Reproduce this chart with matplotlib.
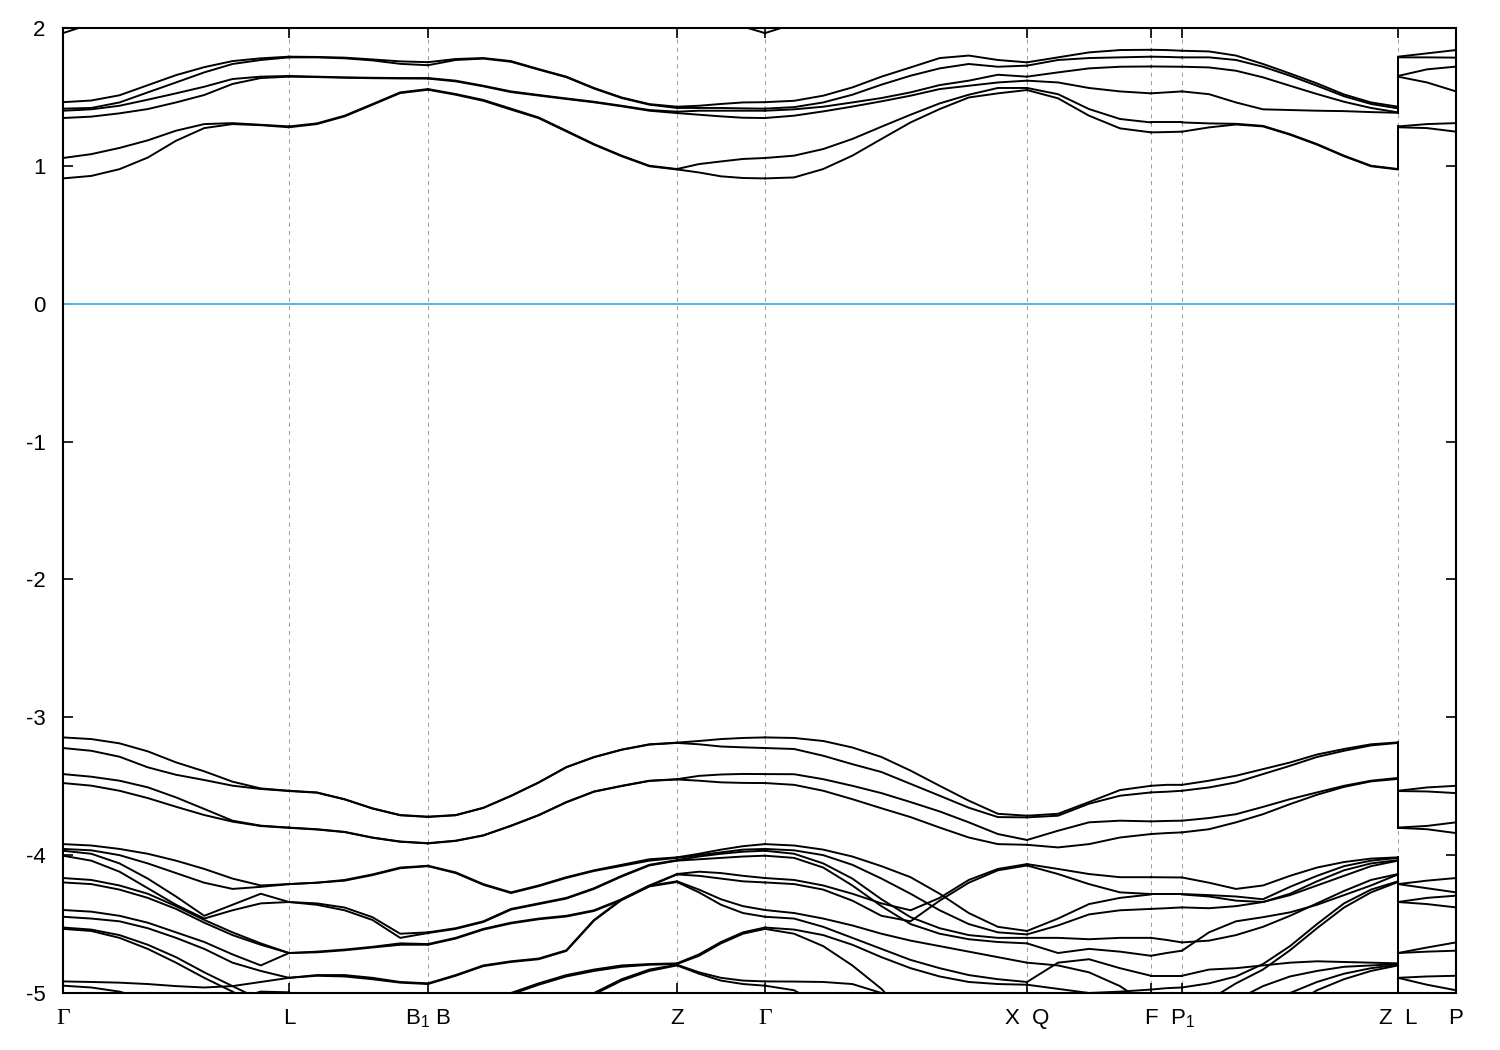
import numpy as np
import matplotlib
matplotlib.use("Agg")
import matplotlib.pyplot as plt

plt.rcParams['font.family'] = ['Liberation Sans', 'DejaVu Sans']
plt.rcParams['mathtext.fontset'] = 'custom'
plt.rcParams['mathtext.rm'] = 'Liberation Sans'
plt.rcParams['axes.unicode_minus'] = False

# high symmetry points along the path (k-distance)
k_ticks = [0.0, 0.226, 0.365, 0.614, 0.702, 0.964, 1.088, 1.119, 1.335, 1.393]
k_labels = ['Γ', 'L', 'B$_\\mathrm{1}$ B', 'Z', 'Γ', 'X  Q', 'F', 'P$_\\mathrm{1}$', 'Z  L', 'P']

# energies (eV) per segment, one row per band, columns = k points of the segment
# Γ - L
GL = [
    [1.963, 2.03, 2.2, 2.3, 2.3, 2.3, 2.3, 2.3, 2.3],
    [1.462, 1.474, 1.512, 1.585, 1.658, 1.716, 1.76, 1.78, 1.792],
    [1.415, 1.42, 1.46, 1.533, 1.605, 1.678, 1.739, 1.768, 1.787],
    [1.40, 1.41, 1.436, 1.48, 1.526, 1.574, 1.63, 1.647, 1.652],
    [1.347, 1.357, 1.381, 1.412, 1.46, 1.514, 1.594, 1.637, 1.647],
    [1.057, 1.085, 1.13, 1.185, 1.255, 1.303, 1.31, 1.298, 1.286],
    [0.909, 0.927, 0.976, 1.06, 1.182, 1.274, 1.303, 1.295, 1.28],
    [-3.146, -3.158, -3.189, -3.247, -3.327, -3.392, -3.467, -3.516, -3.533],
    [-3.223, -3.243, -3.286, -3.363, -3.417, -3.455, -3.496, -3.52, -3.535],
    [-3.412, -3.431, -3.46, -3.508, -3.581, -3.665, -3.75, -3.786, -3.80],
    [-3.477, -3.496, -3.533, -3.586, -3.649, -3.709, -3.757, -3.789, -3.802],
    [-3.92, -3.93, -3.955, -3.99, -4.04, -4.10, -4.17, -4.22, -4.21],
    [-3.955, -3.965, -4.00, -4.06, -4.13, -4.20, -4.245, -4.23, -4.21],
    [-3.968, -3.99, -4.06, -4.17, -4.30, -4.44, -4.36, -4.28, -4.34],
    [-4.004, -4.04, -4.12, -4.24, -4.36, -4.46, -4.40, -4.35, -4.34],
    [-4.166, -4.18, -4.22, -4.28, -4.37, -4.47, -4.56, -4.64, -4.71],
    [-4.198, -4.21, -4.25, -4.31, -4.39, -4.49, -4.58, -4.65, -4.71],
    [-4.398, -4.41, -4.44, -4.49, -4.56, -4.63, -4.72, -4.80, -4.71],
    [-4.447, -4.46, -4.48, -4.53, -4.60, -4.68, -4.78, -4.84, -4.89],
    [-4.525, -4.54, -4.58, -4.65, -4.74, -4.85, -4.95, -5.05, -5.2],
    [-4.535, -4.55, -4.60, -4.68, -4.78, -4.89, -4.99, -5.1, -5.2],
    [-4.916, -4.92, -4.925, -4.935, -4.95, -4.96, -4.95, -4.92, -4.89],
    [-4.947, -4.96, -4.99, -5.05, -5.1, -5.1, -5.05, -4.99, -4.995],
]

# L - B1|B
LB = [
    [1.792, 1.79, 1.785, 1.772, 1.758, 1.752],
    [1.787, 1.787, 1.78, 1.765, 1.74, 1.73],
    [1.652, 1.647, 1.642, 1.639, 1.637, 1.637],
    [1.647, 1.644, 1.639, 1.636, 1.634, 1.633],
    [1.286, 1.308, 1.364, 1.448, 1.533, 1.557],
    [1.28, 1.303, 1.359, 1.443, 1.528, 1.552],
    [-3.533, -3.545, -3.594, -3.66, -3.709, -3.721],
    [-3.535, -3.547, -3.596, -3.662, -3.711, -3.723],
    [-3.80, -3.812, -3.831, -3.872, -3.901, -3.913],
    [-3.802, -3.814, -3.833, -3.874, -3.903, -3.915],
    [-4.21, -4.20, -4.18, -4.14, -4.09, -4.077],
    [-4.21, -4.20, -4.185, -4.145, -4.095, -4.08],
    [-4.34, -4.35, -4.38, -4.45, -4.57, -4.56],
    [-4.34, -4.36, -4.40, -4.47, -4.60, -4.565],
    [-4.71, -4.70, -4.685, -4.665, -4.64, -4.645],
    [-4.71, -4.705, -4.69, -4.67, -4.65, -4.65],
    [-4.89, -4.87, -4.87, -4.89, -4.92, -4.93],
    [-4.89, -4.875, -4.88, -4.90, -4.925, -4.935],
    [-4.995, -5.1, -5.2, -5.3, -5.3, -5.3],
]

# B - Z
BZ = [
    [1.752, 1.775, 1.782, 1.76, 1.702, 1.647, 1.565, 1.496, 1.448, 1.429],
    [1.73, 1.768, 1.778, 1.755, 1.698, 1.643, 1.561, 1.492, 1.444, 1.42],
    [1.637, 1.618, 1.581, 1.54, 1.514, 1.489, 1.465, 1.436, 1.405, 1.393],
    [1.633, 1.613, 1.577, 1.535, 1.51, 1.485, 1.461, 1.432, 1.40, 1.383],
    [1.557, 1.521, 1.478, 1.415, 1.351, 1.255, 1.158, 1.074, 1.001, 0.977],
    [1.552, 1.516, 1.472, 1.408, 1.346, 1.25, 1.154, 1.07, 0.997, 0.974],
    [-3.721, -3.709, -3.656, -3.569, -3.472, -3.361, -3.288, -3.234, -3.196, -3.184],
    [-3.723, -3.711, -3.658, -3.571, -3.474, -3.363, -3.29, -3.236, -3.198, -3.186],
    [-3.913, -3.895, -3.856, -3.786, -3.709, -3.615, -3.538, -3.497, -3.46, -3.449],
    [-3.915, -3.897, -3.858, -3.788, -3.711, -3.617, -3.54, -3.499, -3.462, -3.451],
    [-4.077, -4.125, -4.21, -4.27, -4.22, -4.16, -4.11, -4.07, -4.03, -4.016],
    [-4.08, -4.13, -4.215, -4.275, -4.225, -4.165, -4.115, -4.078, -4.04, -4.02],
    [-4.56, -4.53, -4.48, -4.39, -4.35, -4.31, -4.24, -4.15, -4.07, -4.036],
    [-4.565, -4.535, -4.485, -4.395, -4.355, -4.315, -4.245, -4.155, -4.075, -4.04],
    [-4.645, -4.60, -4.535, -4.49, -4.46, -4.44, -4.40, -4.32, -4.22, -4.137],
    [-4.65, -4.605, -4.54, -4.495, -4.465, -4.445, -4.405, -4.325, -4.225, -4.14],
    [-4.93, -4.87, -4.80, -4.77, -4.75, -4.69, -4.47, -4.32, -4.222, -4.19],
    [-4.935, -4.875, -4.805, -4.775, -4.755, -4.695, -4.475, -4.325, -4.227, -4.195],
    [-5.3, -5.3, -5.3, -5.0, -4.93, -4.87, -4.83, -4.80, -4.79, -4.785],
    [-5.3, -5.3, -5.3, -5.01, -4.94, -4.88, -4.84, -4.81, -4.795, -4.79],
    [-5.3, -5.3, -5.3, -5.3, -5.3, -5.2, -5.0, -4.90, -4.83, -4.795],
    [-5.3, -5.3, -5.3, -5.3, -5.3, -5.2, -5.01, -4.91, -4.84, -4.80],
]

# Z - Γ
ZG = [
    [2.3, 2.3, 2.3, 2.01, 1.963],
    [1.429, 1.436, 1.449, 1.46, 1.462],
    [1.42, 1.42, 1.42, 1.417, 1.415],
    [1.393, 1.40, 1.40, 1.40, 1.40],
    [1.383, 1.371, 1.359, 1.349, 1.347],
    [0.977, 1.013, 1.032, 1.05, 1.057],
    [0.974, 0.952, 0.924, 0.912, 0.909],
    [-3.184, -3.172, -3.158, -3.15, -3.146],
    [-3.186, -3.196, -3.212, -3.218, -3.223],
    [-3.449, -3.425, -3.415, -3.411, -3.412],
    [-3.451, -3.46, -3.472, -3.476, -3.477],
    [-4.016, -3.99, -3.96, -3.935, -3.92],
    [-4.02, -4.00, -3.98, -3.96, -3.955],
    [-4.036, -4.01, -3.99, -3.975, -3.968],
    [-4.04, -4.03, -4.02, -4.01, -4.004],
    [-4.137, -4.12, -4.13, -4.15, -4.166],
    [-4.14, -4.15, -4.17, -4.19, -4.198],
    [-4.19, -4.25, -4.32, -4.37, -4.398],
    [-4.195, -4.27, -4.36, -4.42, -4.447],
    [-4.785, -4.72, -4.63, -4.56, -4.525],
    [-4.79, -4.73, -4.64, -4.57, -4.535],
    [-4.795, -4.85, -4.89, -4.91, -4.916],
    [-4.80, -4.86, -4.91, -4.935, -4.947],
]

# Γ - X|Q
GX = [
    [1.963, 2.03, 2.3, 2.3, 2.3, 2.3, 2.3, 2.3, 2.3, 2.3],
    [1.462, 1.472, 1.509, 1.569, 1.647, 1.714, 1.782, 1.80, 1.768, 1.751],
    [1.415, 1.426, 1.46, 1.516, 1.589, 1.654, 1.707, 1.739, 1.719, 1.727],
    [1.40, 1.41, 1.429, 1.46, 1.492, 1.533, 1.586, 1.618, 1.661, 1.647],
    [1.347, 1.364, 1.395, 1.43, 1.468, 1.509, 1.557, 1.581, 1.605, 1.618],
    [1.057, 1.074, 1.122, 1.195, 1.284, 1.371, 1.453, 1.516, 1.565, 1.565],
    [0.909, 0.916, 0.977, 1.074, 1.195, 1.315, 1.412, 1.496, 1.526, 1.55],
    [-3.146, -3.15, -3.172, -3.219, -3.288, -3.387, -3.497, -3.605, -3.70, -3.714],
    [-3.223, -3.23, -3.279, -3.34, -3.397, -3.483, -3.569, -3.656, -3.724, -3.726],
    [-3.412, -3.413, -3.449, -3.497, -3.55, -3.615, -3.683, -3.762, -3.847, -3.89],
    [-3.477, -3.49, -3.533, -3.594, -3.66, -3.724, -3.80, -3.872, -3.92, -3.925],
    [-3.92, -3.93, -3.96, -4.01, -4.08, -4.16, -4.28, -4.42, -4.52, -4.55],
    [-3.955, -3.965, -4.00, -4.07, -4.17, -4.28, -4.40, -4.50, -4.56, -4.575],
    [-3.968, -3.99, -4.06, -4.17, -4.32, -4.45, -4.53, -4.58, -4.60, -4.60],
    [-4.004, -4.02, -4.09, -4.22, -4.37, -4.50, -4.57, -4.61, -4.63, -4.64],
    [-4.166, -4.18, -4.22, -4.28, -4.35, -4.40, -4.31, -4.18, -4.10, -4.065],
    [-4.198, -4.21, -4.25, -4.33, -4.44, -4.48, -4.33, -4.20, -4.11, -4.075],
    [-4.398, -4.42, -4.46, -4.51, -4.57, -4.62, -4.66, -4.70, -4.74, -4.78],
    [-4.447, -4.46, -4.52, -4.60, -4.68, -4.76, -4.82, -4.87, -4.90, -4.92],
    [-4.525, -4.54, -4.58, -4.65, -4.74, -4.82, -4.88, -4.92, -4.935, -4.94],
    [-4.535, -4.57, -4.66, -4.80, -4.97, -5.2, -5.3, -5.3, -5.3, -5.3],
    [-4.916, -4.917, -4.92, -4.935, -5.0, -5.3, -5.3, -5.3, -5.3, -5.3],
    [-4.947, -4.98, -5.1, -5.3, -5.3, -5.3, -5.3, -5.3, -5.3, -5.3],
]

# X|Q - F
XF = [
    [1.751, 1.787, 1.823, 1.84, 1.842],
    [1.727, 1.768, 1.782, 1.787, 1.792],
    [1.647, 1.678, 1.707, 1.719, 1.721],
    [1.618, 1.605, 1.565, 1.54, 1.526],
    [1.565, 1.52, 1.412, 1.34, 1.315],
    [1.55, 1.49, 1.364, 1.272, 1.243],
    [-3.714, -3.70, -3.615, -3.528, -3.497],
    [-3.726, -3.714, -3.627, -3.569, -3.545],
    [-3.89, -3.823, -3.762, -3.75, -3.755],
    [-3.925, -3.944, -3.92, -3.872, -3.847],
    [-4.065, -4.10, -4.137, -4.16, -4.16],
    [-4.075, -4.137, -4.21, -4.27, -4.282],
    [-4.55, -4.46, -4.355, -4.31, -4.285],
    [-4.575, -4.51, -4.43, -4.40, -4.39],
    [-4.60, -4.60, -4.61, -4.60, -4.60],
    [-4.64, -4.71, -4.68, -4.70, -4.73],
    [-4.78, -4.80, -4.85, -4.95, -5.1],
    [-4.92, -4.78, -4.755, -4.82, -4.875],
    [-4.94, -4.97, -5.0, -4.99, -4.975],
]

# F - P1
FP1 = [
    [1.842, 1.84, 1.835],
    [1.792, 1.79, 1.787],
    [1.721, 1.72, 1.719],
    [1.526, 1.533, 1.54],
    [1.315, 1.315, 1.315],
    [1.243, 1.245, 1.248],
    [-3.497, -3.49, -3.49],
    [-3.545, -3.54, -3.533],
    [-3.755, -3.752, -3.75],
    [-3.847, -3.84, -3.835],
    [-4.16, -4.161, -4.162],
    [-4.282, -4.282, -4.282],
    [-4.285, -4.285, -4.285],
    [-4.39, -4.385, -4.379],
    [-4.60, -4.615, -4.633],
    [-4.73, -4.71, -4.693],
    [-4.875, -4.875, -4.875],
    [-4.975, -4.965, -4.96],
]

# P1 - Z
P1Z = [
    [1.835, 1.83, 1.80, 1.739, 1.67, 1.598, 1.518, 1.46, 1.429],
    [1.787, 1.787, 1.768, 1.719, 1.654, 1.581, 1.505, 1.449, 1.417],
    [1.719, 1.714, 1.69, 1.642, 1.581, 1.521, 1.465, 1.42, 1.388],
    [1.54, 1.52, 1.46, 1.41, 1.405, 1.40, 1.397, 1.39, 1.385],
    [1.315, 1.308, 1.305, 1.29, 1.23, 1.158, 1.074, 1.001, 0.977],
    [1.248, 1.279, 1.30, 1.286, 1.226, 1.154, 1.07, 0.997, 0.974],
    [-3.49, -3.46, -3.424, -3.376, -3.328, -3.27, -3.23, -3.196, -3.182],
    [-3.533, -3.509, -3.472, -3.412, -3.352, -3.288, -3.243, -3.204, -3.186],
    [-3.75, -3.731, -3.703, -3.65, -3.594, -3.545, -3.497, -3.46, -3.44],
    [-3.835, -3.812, -3.762, -3.703, -3.63, -3.562, -3.505, -3.465, -3.447],
    [-4.162, -4.20, -4.245, -4.22, -4.15, -4.09, -4.05, -4.025, -4.016],
    [-4.282, -4.29, -4.30, -4.32, -4.23, -4.15, -4.08, -4.04, -4.02],
    [-4.285, -4.30, -4.33, -4.34, -4.28, -4.19, -4.11, -4.06, -4.036],
    [-4.379, -4.385, -4.37, -4.34, -4.29, -4.22, -4.15, -4.08, -4.04],
    [-4.633, -4.62, -4.58, -4.52, -4.44, -4.35, -4.26, -4.18, -4.137],
    [-4.693, -4.56, -4.48, -4.45, -4.415, -4.36, -4.29, -4.22, -4.14],
    [-4.875, -4.83, -4.82, -4.80, -4.78, -4.77, -4.775, -4.78, -4.785],
    [-4.96, -4.93, -4.88, -4.79, -4.66, -4.50, -4.35, -4.25, -4.19],
    [-5.3, -5.05, -4.93, -4.83, -4.69, -4.53, -4.38, -4.27, -4.195],
    [-5.3, -5.3, -5.05, -4.95, -4.88, -4.84, -4.81, -4.80, -4.79],
    [-5.3, -5.3, -5.3, -5.1, -5.0, -4.92, -4.86, -4.82, -4.795],
    [-5.3, -5.3, -5.3, -5.3, -5.1, -4.98, -4.90, -4.84, -4.80],
]

# L - P
LP = [
    [1.792, 1.816, 1.84],
    [1.787, 1.787, 1.785],
    [1.652, 1.70, 1.72],
    [1.647, 1.605, 1.54],
    [1.286, 1.303, 1.31],
    [1.28, 1.274, 1.248],
    [-3.533, -3.509, -3.497],
    [-3.535, -3.538, -3.55],
    [-3.80, -3.788, -3.762],
    [-3.802, -3.812, -3.84],
    [-4.21, -4.185, -4.166],
    [-4.21, -4.24, -4.27],
    [-4.34, -4.31, -4.294],
    [-4.34, -4.355, -4.379],
    [-4.71, -4.67, -4.633],
    [-4.71, -4.70, -4.693],
    [-4.89, -4.88, -4.875],
    [-4.89, -4.94, -4.98],
    [-4.995, -5.1, -5.3],
    [-5.3, -5.3, -5.3],
    [-5.3, -5.3, -5.3],
    [-5.3, -5.3, -5.3],
]

segments = [GL, LB, BZ, ZG, GX, XF, FP1, P1Z, LP]

fig = plt.figure(figsize=(15, 10.5), dpi=100)
ax = fig.add_axes([63 / 1500, 57 / 1050, 1393 / 1500, 965 / 1050])

for i, seg in enumerate(segments):
    seg = np.array(seg)
    k = np.linspace(k_ticks[i], k_ticks[i + 1], seg.shape[1])
    for row in seg:
        ax.plot(k, row, color='black', lw=1.4, zorder=3)

# the path jumps at Z|L: bands are joined by vertical lines
z_end = np.sort(np.array(P1Z)[:, -1])
l_start = np.sort(np.array(LP)[:, 0])
for e0, e1 in zip(z_end, l_start):
    ax.plot([k_ticks[8], k_ticks[8]], [e0, e1], color='black', lw=1.4, zorder=3)

ax.axhline(0, color='#56b4e9', lw=1.4, zorder=2)
for kt in k_ticks[1:-1]:
    ax.axvline(kt, color='#a0a0a0', lw=0.75, ls=(0, (4, 4)), zorder=1)

ax.set_xlim(k_ticks[0], k_ticks[-1])
ax.set_ylim(-5, 2)
ax.set_xticks(k_ticks)
ax.set_xticklabels(k_labels)
ax.set_yticks(range(-5, 3))
ax.tick_params(direction='in', length=7, width=1.2, top=True, right=True, labelsize=16)
ax.tick_params(axis='y', pad=12.5)
ax.tick_params(axis='x', pad=10.5)
for lbl in ax.get_xticklabels():
    if lbl.get_text() == 'Γ':
        lbl.set_fontfamily('Liberation Serif')
        lbl.set_fontsize(17)
for sp in ax.spines.values():
    sp.set_linewidth(1.5)

fig.savefig('out.png', dpi=100)
